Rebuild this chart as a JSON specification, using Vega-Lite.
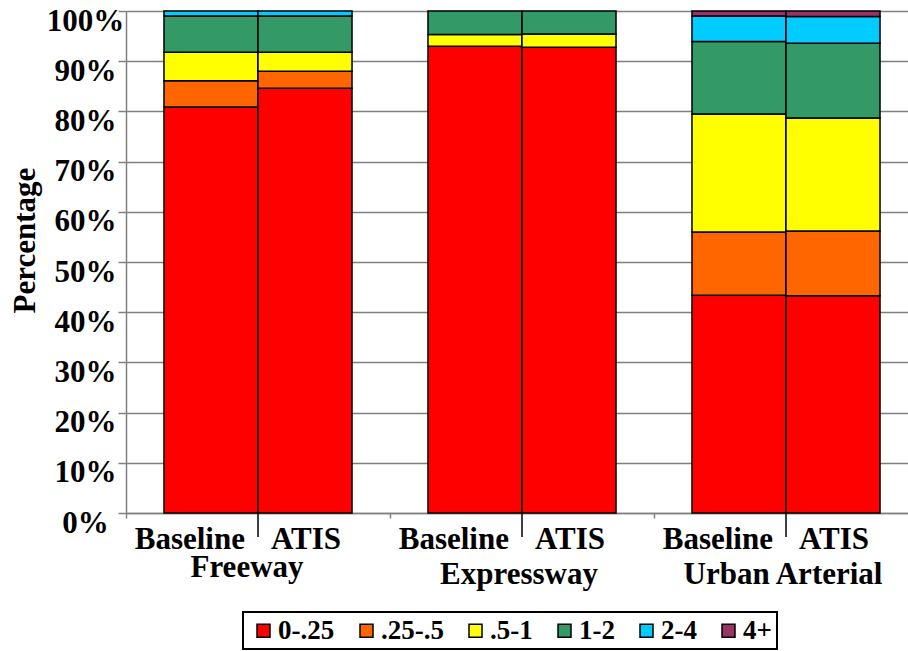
{
  "$schema": "https://vega.github.io/schema/vega-lite/v6.json",
  "width": 782,
  "height": 502,
  "autosize": {"type": "none"},
  "padding": {"left": 126, "top": 11, "right": 0, "bottom": 138},
  "background": "white",
  "config": {
    "font": "Liberation Serif",
    "view": {"stroke": null},
    "text": {"font": "Liberation Serif", "fontWeight": "bold", "fontSize": 31, "color": "black"}
  },
  "datasets": {
    "shares": [
      {"road": "Freeway", "scenario": "Baseline", "bin": "0-.25", "k": 1, "pct": 80.9},
      {"road": "Freeway", "scenario": "Baseline", "bin": ".25-.5", "k": 2, "pct": 5.2},
      {"road": "Freeway", "scenario": "Baseline", "bin": ".5-1", "k": 3, "pct": 5.7},
      {"road": "Freeway", "scenario": "Baseline", "bin": "1-2", "k": 4, "pct": 7.2},
      {"road": "Freeway", "scenario": "Baseline", "bin": "2-4", "k": 5, "pct": 1.0},
      {"road": "Freeway", "scenario": "ATIS", "bin": "0-.25", "k": 1, "pct": 84.6},
      {"road": "Freeway", "scenario": "ATIS", "bin": ".25-.5", "k": 2, "pct": 3.4},
      {"road": "Freeway", "scenario": "ATIS", "bin": ".5-1", "k": 3, "pct": 3.8},
      {"road": "Freeway", "scenario": "ATIS", "bin": "1-2", "k": 4, "pct": 7.2},
      {"road": "Freeway", "scenario": "ATIS", "bin": "2-4", "k": 5, "pct": 1.0},
      {"road": "Expressway", "scenario": "Baseline", "bin": "0-.25", "k": 1, "pct": 93.0},
      {"road": "Expressway", "scenario": "Baseline", "bin": ".5-1", "k": 3, "pct": 2.3},
      {"road": "Expressway", "scenario": "Baseline", "bin": "1-2", "k": 4, "pct": 4.7},
      {"road": "Expressway", "scenario": "ATIS", "bin": "0-.25", "k": 1, "pct": 92.8},
      {"road": "Expressway", "scenario": "ATIS", "bin": ".5-1", "k": 3, "pct": 2.6},
      {"road": "Expressway", "scenario": "ATIS", "bin": "1-2", "k": 4, "pct": 4.6},
      {"road": "Urban Arterial", "scenario": "Baseline", "bin": "0-.25", "k": 1, "pct": 43.4},
      {"road": "Urban Arterial", "scenario": "Baseline", "bin": ".25-.5", "k": 2, "pct": 12.6},
      {"road": "Urban Arterial", "scenario": "Baseline", "bin": ".5-1", "k": 3, "pct": 23.5},
      {"road": "Urban Arterial", "scenario": "Baseline", "bin": "1-2", "k": 4, "pct": 14.4},
      {"road": "Urban Arterial", "scenario": "Baseline", "bin": "2-4", "k": 5, "pct": 5.1},
      {"road": "Urban Arterial", "scenario": "Baseline", "bin": "4+", "k": 6, "pct": 1.0},
      {"road": "Urban Arterial", "scenario": "ATIS", "bin": "0-.25", "k": 1, "pct": 43.3},
      {"road": "Urban Arterial", "scenario": "ATIS", "bin": ".25-.5", "k": 2, "pct": 12.9},
      {"road": "Urban Arterial", "scenario": "ATIS", "bin": ".5-1", "k": 3, "pct": 22.5},
      {"road": "Urban Arterial", "scenario": "ATIS", "bin": "1-2", "k": 4, "pct": 14.9},
      {"road": "Urban Arterial", "scenario": "ATIS", "bin": "2-4", "k": 5, "pct": 5.3},
      {"road": "Urban Arterial", "scenario": "ATIS", "bin": "4+", "k": 6, "pct": 1.1}
    ],
    "bars": [
      {"road": "Freeway", "scenario": "Baseline"},
      {"road": "Freeway", "scenario": "ATIS"},
      {"road": "Expressway", "scenario": "Baseline"},
      {"road": "Expressway", "scenario": "ATIS"},
      {"road": "Urban Arterial", "scenario": "Baseline"},
      {"road": "Urban Arterial", "scenario": "ATIS"}
    ],
    "roads": [
      {"road": "Freeway"},
      {"road": "Expressway"},
      {"road": "Urban Arterial"}
    ]
  },
  "layer": [
    {
      "data": {"name": "shares"},
      "mark": {"type": "bar", "stroke": "black", "strokeWidth": 1.5},
      "encoding": {
        "x": {
          "field": "road",
          "type": "nominal",
          "sort": ["Freeway", "Expressway", "Urban Arterial"],
          "scale": {"range": [0, 792], "paddingInner": 0, "paddingOuter": 0},
          "axis": {
            "title": null,
            "labels": false,
            "grid": false,
            "bandPosition": 0,
            "tickSize": 5,
            "tickColor": "#808080",
            "tickWidth": 1.5,
            "domainColor": "#808080",
            "domainWidth": 1.5
          }
        },
        "xOffset": {
          "field": "scenario",
          "type": "nominal",
          "sort": ["Baseline", "ATIS"],
          "scale": {"paddingInner": 0, "paddingOuter": 0.404}
        },
        "y": {
          "field": "pct",
          "type": "quantitative",
          "stack": "zero",
          "scale": {"domain": [0, 100], "nice": false},
          "axis": {
            "values": [0, 10, 20, 30, 40, 50, 60, 70, 80, 90, 100],
            "labelExpr": "datum.value + '%'",
            "labelFont": "Liberation Serif",
            "labelFontSize": 31,
            "labelFontWeight": "bold",
            "labelColor": "black",
            "labelAlign": "center",
            "labelBaseline": "middle",
            "labelPadding": 33,
            "labelOffset": 10,
            "labelOverlap": false,
            "labelFlush": false,
            "tickSize": 8,
            "tickColor": "#808080",
            "tickWidth": 1.5,
            "domainColor": "#808080",
            "domainWidth": 1.5,
            "grid": true,
            "gridColor": "#808080",
            "gridWidth": 1.5,
            "title": "Percentage",
            "titleFont": "Liberation Serif",
            "titleFontSize": 31,
            "titleFontWeight": "bold",
            "titleColor": "black",
            "titleAngle": -90,
            "titleX": -101,
            "titleY": 229,
            "titleAlign": "center",
            "titleBaseline": "middle"
          }
        },
        "color": {
          "field": "bin",
          "type": "nominal",
          "scale": {
            "domain": ["0-.25", ".25-.5", ".5-1", "1-2", "2-4", "4+"],
            "range": ["#FF0000", "#FF6600", "#FFFF00", "#339966", "#00CCFF", "#993366"]
          },
          "legend": {
            "orient": "none",
            "legendX": 117,
            "legendY": 601,
            "direction": "horizontal",
            "columns": 6,
            "title": null,
            "strokeColor": "black",
            "fillColor": "white",
            "padding": 5,
            "symbolType": "square",
            "symbolSize": 169,
            "symbolStrokeColor": "black",
            "symbolStrokeWidth": 1.5,
            "symbolOffset": 2,
            "labelOffset": 1,
            "columnPadding": 16,
            "labelFont": "Liberation Serif",
            "labelFontSize": 27,
            "labelFontWeight": "bold",
            "labelColor": "black",
            "labelLimit": 200,
            "encode": {"legend": {"update": {"strokeWidth": {"value": 2}}}}
          }
        },
        "order": {"field": "k", "type": "quantitative", "sort": "ascending"}
      }
    },
    {
      "data": {"name": "roads"},
      "mark": {"type": "rule", "color": "black", "strokeWidth": 1.5},
      "encoding": {
        "x": {"field": "road", "type": "nominal", "sort": ["Freeway", "Expressway", "Urban Arterial"]},
        "y": {"value": 502},
        "y2": {"value": 526}
      }
    },
    {
      "data": {"name": "bars"},
      "transform": [{"filter": "datum.scenario === 'Baseline'"}],
      "mark": {"type": "text", "align": "right", "baseline": "alphabetic", "dx": 34, "y": 538},
      "encoding": {
        "x": {"field": "road", "type": "nominal", "sort": ["Freeway", "Expressway", "Urban Arterial"]},
        "xOffset": {"field": "scenario", "type": "nominal", "sort": ["Baseline", "ATIS"]},
        "text": {"field": "scenario"}
      }
    },
    {
      "data": {"name": "bars"},
      "transform": [{"filter": "datum.scenario === 'ATIS'"}],
      "mark": {"type": "text", "align": "center", "baseline": "alphabetic", "dx": 1, "y": 538},
      "encoding": {
        "x": {"field": "road", "type": "nominal", "sort": ["Freeway", "Expressway", "Urban Arterial"]},
        "xOffset": {"field": "scenario", "type": "nominal", "sort": ["Baseline", "ATIS"]},
        "text": {"field": "scenario"}
      }
    },
    {
      "data": {"name": "roads"},
      "transform": [{"filter": "datum.road === 'Freeway'"}],
      "mark": {"type": "text", "align": "center", "baseline": "alphabetic", "dx": -11, "y": 566},
      "encoding": {
        "x": {"field": "road", "type": "nominal", "sort": ["Freeway", "Expressway", "Urban Arterial"]},
        "text": {"field": "road"}
      }
    },
    {
      "data": {"name": "roads"},
      "transform": [{"filter": "datum.road !== 'Freeway'"}],
      "mark": {"type": "text", "align": "center", "baseline": "alphabetic", "dx": -3, "y": 573},
      "encoding": {
        "x": {"field": "road", "type": "nominal", "sort": ["Freeway", "Expressway", "Urban Arterial"]},
        "text": {"field": "road"}
      }
    }
  ]
}
